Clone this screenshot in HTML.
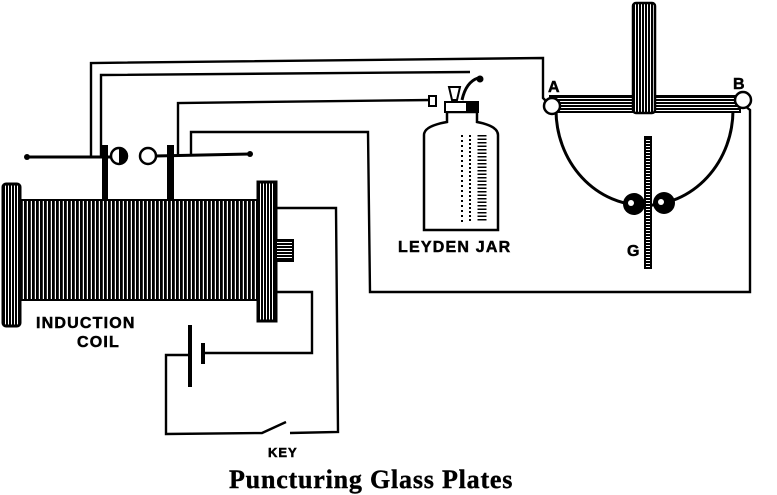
<!DOCTYPE html>
<html><head><style>
body{margin:0;background:#fff;width:777px;height:495px;overflow:hidden}
svg{display:block}
</style></head><body>
<svg width="777" height="495" viewBox="0 0 777 495" xmlns="http://www.w3.org/2000/svg">
<defs>
<pattern id="coil" width="4" height="10" patternUnits="userSpaceOnUse"><rect width="4" height="10" fill="#fff"/><rect width="2.8" height="10" fill="#000"/></pattern>
<pattern id="hz" width="10" height="3" patternUnits="userSpaceOnUse"><rect width="10" height="3" fill="#fff"/><rect width="10" height="2" fill="#000"/></pattern>
<pattern id="vt" width="3" height="10" patternUnits="userSpaceOnUse"><rect width="3" height="10" fill="#fff"/><rect width="2" height="10" fill="#000"/></pattern>
</defs>
<g fill="none" stroke="#000" stroke-width="2.4">
<polyline points="91,157 91,63 543,58 543,98 548,103"/>
<polyline points="101,157 101,75 470,72"/>
<polyline points="178,157 178,103 432,100"/>
<polyline points="191,155 191,132 368,132 370,292 750,292 750,110 745,106"/>
<polyline points="276,208 336,208 338,432 290,433"/>
<polyline points="276,292 312,292 312,353 205,353"/>
<polyline points="190,355 166,355 166,434 262,433 286,422"/>
</g>
<rect x="188" y="325" width="4" height="62" fill="#000"/>
<rect x="201" y="343" width="4" height="21" fill="#000"/>
<line x1="27" y1="157" x2="112" y2="157" stroke="#000" stroke-width="3"/>
<circle cx="27" cy="157" r="3" fill="#000"/>
<line x1="155" y1="156" x2="250" y2="154" stroke="#000" stroke-width="3"/>
<circle cx="250" cy="154" r="3" fill="#000"/>
<circle cx="119" cy="156" r="8" fill="#fff" stroke="#000" stroke-width="2.5"/>
<circle cx="148" cy="156" r="8" fill="#fff" stroke="#000" stroke-width="2.5"/>
<path d="M119 148 a8 8 0 0 1 0 16z" fill="#000"/>
<rect x="102" y="145" width="6" height="56" fill="#000"/>
<rect x="167" y="145" width="7" height="56" fill="#000"/>
<rect x="20" y="200" width="240" height="100" fill="url(#coil)" stroke="#000" stroke-width="2"/>
<rect x="3" y="184" width="17" height="142" rx="3" fill="url(#vt)" stroke="#000" stroke-width="3"/>
<rect x="258" y="182" width="18" height="139" fill="url(#vt)" stroke="#000" stroke-width="3"/>
<rect x="276" y="240" width="17" height="21" fill="url(#hz)" stroke="#000" stroke-width="2"/>
<path d="M447 112 L447 122 Q424 126 424 135 L424 230 L498 230 L498 135 Q498 126 477 122 L477 112 Z" fill="#fff" stroke="#000" stroke-width="2.5"/>
<rect x="445" y="102" width="33" height="10" fill="#fff" stroke="#000" stroke-width="2"/>
<rect x="466" y="102" width="12" height="10" fill="#000"/>
<path d="M449 87 L460 87 L457 100 L452 100Z" fill="#fff" stroke="#000" stroke-width="2"/>
<path d="M462 100 Q466 82 478 78" fill="none" stroke="#000" stroke-width="3"/>
<circle cx="480" cy="79" r="3.5" fill="#000"/>
<rect x="429" y="96" width="7" height="10" fill="#fff" stroke="#000" stroke-width="2"/>
<g stroke="#000" stroke-width="2">
<line x1="462" y1="135" x2="462" y2="222" stroke-dasharray="2 3"/>
<line x1="470" y1="135" x2="470" y2="222" stroke-dasharray="2 2"/>
<line x1="482" y1="135" x2="482" y2="222" stroke-width="9" stroke-dasharray="1.5 2"/>
</g>
<path d="M556 110 A88 95 0 0 0 733 110" fill="none" stroke="#000" stroke-width="3"/>
<rect x="550" y="96" width="190" height="16" fill="url(#hz)" stroke="#000" stroke-width="2"/>
<rect x="633" y="3" width="22" height="110" rx="3" fill="url(#vt)" stroke="#000" stroke-width="2.5"/>
<circle cx="552" cy="106" r="8" fill="#fff" stroke="#000" stroke-width="2.5"/>
<circle cx="743" cy="100" r="8" fill="#fff" stroke="#000" stroke-width="2.5"/>
<rect x="645" y="137" width="6" height="131" fill="url(#hz)" stroke="#000" stroke-width="2"/>
<circle cx="634" cy="204" r="11" fill="#000"/>
<circle cx="664" cy="203" r="11" fill="#000"/>
<circle cx="631" cy="203" r="3" fill="#fff"/>
<circle cx="661" cy="202" r="3" fill="#fff"/>
<g font-family="Liberation Sans, sans-serif" font-weight="bold" font-size="16" fill="#000" stroke="#000" stroke-width="0.5">
<text x="548" y="92">A</text>
<text x="733" y="89">B</text>
<text x="627" y="256">G</text>
<text x="398" y="252" letter-spacing="1.2">LEYDEN JAR</text>
<text x="36" y="328" letter-spacing="1.2">INDUCTION</text>
<text x="77" y="347" letter-spacing="1.2">COIL</text>
<text x="268" y="457" font-size="13" letter-spacing="1">KEY</text>
</g>
<text x="229" y="488" font-family="Liberation Serif, serif" font-weight="bold" font-size="26" letter-spacing="0.8" stroke="#000" stroke-width="0.4">Puncturing Glass Plates</text>
</svg>
</body></html>
